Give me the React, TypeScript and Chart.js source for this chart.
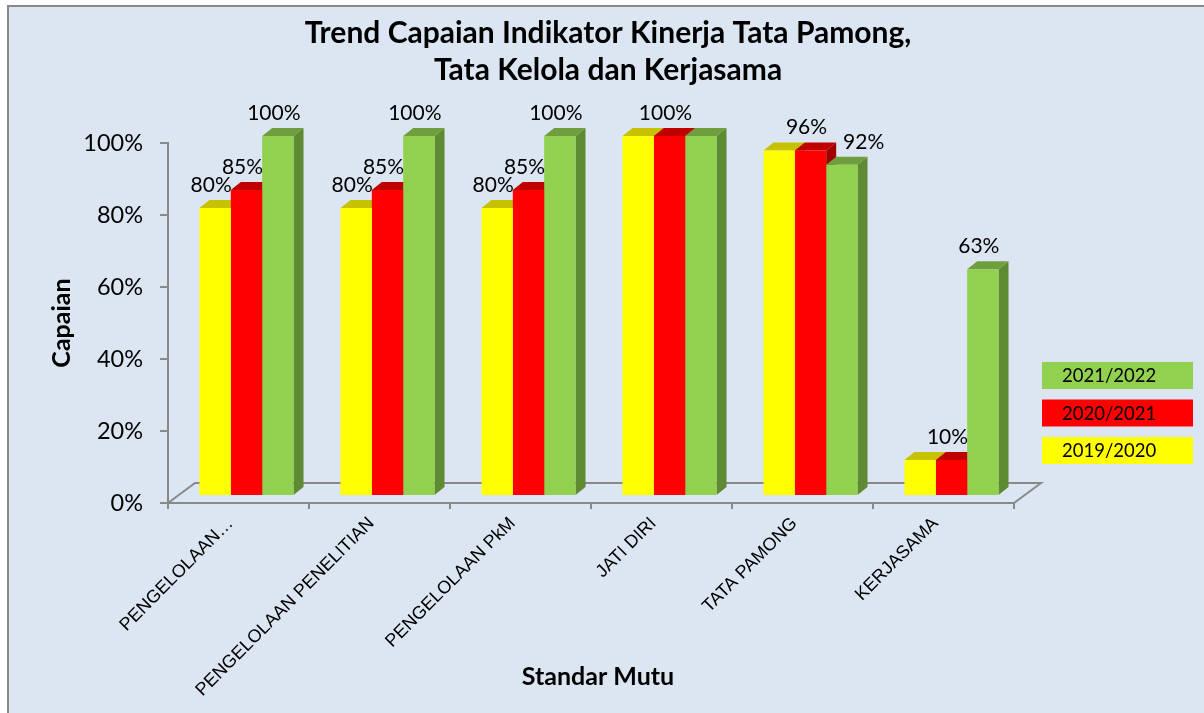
import React, { useEffect, useRef } from 'react';
import { Chart, registerables } from 'chart.js';

Chart.register(...registerables);

// ---------- data ----------
const categories = ['PENGELOLAAN…', 'PENGELOLAAN PENELITIAN', 'PENGELOLAAN PkM', 'JATI DIRI', 'TATA PAMONG', 'KERJASAMA'];
const seriesNames = ['2019/2020', '2020/2021', '2021/2022'];
const values2019 = [0.80, 0.80, 0.80, 1.00, 0.96, 0.10];
const values2020 = [0.85, 0.85, 0.85, 1.00, 0.96, 0.10];
const values2021 = [1.00, 1.00, 1.00, 1.00, 0.92, 0.63];
const showLabel2019 = [true, true, true, false, false, false];
const showLabel2020 = [true, true, true, true, true, true];
const showLabel2021 = [true, true, true, false, true, true];
const yTicks = [0, 0.2, 0.4, 0.6, 0.8, 1.0];
const titleLines = ['Trend Capaian Indikator Kinerja Tata Pamong,', 'Tata Kelola dan Kerjasama'];
const yTitle = 'Capaian';
const xTitle = 'Standar Mutu';

// ---------- styles ----------
const FRONT = ['#FFFF00', '#FF0000', '#92D050'];
const TOP = ['#C6C200', '#C00000', '#6F9E3E'];
const SIDE = ['#B8B400', '#A00000', '#5E8A32'];
const SHOW = [showLabel2019, showLabel2020, showLabel2021];
const AXIS = '#898989';
const BG = '#DCE6F2';
const CAL = 'Lato, "Open Sans", sans-serif';
const ARIAL = '"Liberation Sans", Arial, sans-serif';

const DEPTH_X = 10;
const DEPTH_Y = 8;
const SHIFT_X = 8;
const SHIFT_Y = -7;
const FLOOR_X = 27;
const FLOOR_Y = 20;

const pct = (v: number) => Math.round(v * 100) + '%';

const bar3d = {
  id: 'bar3d',
  beforeDraw(chart: any) {
    const { ctx, width, height } = chart;
    ctx.save();
    ctx.fillStyle = '#FFFFFF';
    ctx.fillRect(0, 0, width, height);
    ctx.fillStyle = BG;
    ctx.fillRect(7, 5, width - 7, height - 5);
    ctx.strokeStyle = AXIS;
    ctx.lineWidth = 2;
    ctx.beginPath();
    ctx.moveTo(8, height);
    ctx.lineTo(8, 6);
    ctx.lineTo(width, 6);
    ctx.stroke();
    ctx.restore();
  },
  beforeDatasetsDraw(chart: any) {
    const { ctx, chartArea } = chart;
    const L = chartArea.left;
    const R = chartArea.right;
    const B = chartArea.bottom;
    ctx.save();
    // floor
    ctx.strokeStyle = AXIS;
    ctx.lineWidth = 2;
    ctx.beginPath();
    ctx.moveTo(L, B);
    ctx.lineTo(L + FLOOR_X, B - FLOOR_Y);
    ctx.lineTo(R + FLOOR_X, B - FLOOR_Y);
    ctx.lineTo(R, B);
    ctx.stroke();
    // 3D top and side faces (fronts are drawn by Chart.js afterwards)
    ctx.translate(SHIFT_X, SHIFT_Y);
    chart.data.datasets.forEach((_ds: any, i: number) => {
      const meta = chart.getDatasetMeta(i);
      meta.data.forEach((el: any) => {
        const { x, y, base, width } = el.getProps(['x', 'y', 'base', 'width'], true);
        const l = x - width / 2;
        const r = x + width / 2;
        ctx.fillStyle = SIDE[i];
        ctx.beginPath();
        ctx.moveTo(r, y);
        ctx.lineTo(r + DEPTH_X, y - DEPTH_Y);
        ctx.lineTo(r + DEPTH_X, base - DEPTH_Y);
        ctx.lineTo(r, base);
        ctx.closePath();
        ctx.fill();
        ctx.fillStyle = TOP[i];
        ctx.beginPath();
        ctx.moveTo(l, y);
        ctx.lineTo(l + DEPTH_X, y - DEPTH_Y);
        ctx.lineTo(r + DEPTH_X, y - DEPTH_Y);
        ctx.lineTo(r, y);
        ctx.closePath();
        ctx.fill();
      });
    });
    ctx.restore();
  },
  beforeDatasetDraw(chart: any) {
    chart.ctx.save();
    chart.ctx.translate(SHIFT_X, SHIFT_Y);
  },
  afterDatasetDraw(chart: any) {
    chart.ctx.restore();
  },
  afterDatasetsDraw(chart: any) {
    const ctx = chart.ctx;
    ctx.save();
    ctx.fillStyle = '#000';
    ctx.textAlign = 'center';
    ctx.textBaseline = 'middle';
    ctx.font = `21px ${CAL}`;
    const placed: { l: number; r: number; t: number; b: number }[] = [];
    const h = 16;
    for (let j = 0; j < chart.data.labels.length; j++) {
      chart.data.datasets.forEach((ds: any, i: number) => {
        if (!SHOW[i][j]) return;
        const el = chart.getDatasetMeta(i).data[j];
        const text = pct(ds.data[j]);
        const w = ctx.measureText(text).width;
        let cx = el.x + SHIFT_X - 4;
        const cy = el.y + SHIFT_Y - 23;
        // simple collision avoidance: push right past an overlapping label
        for (const p of placed) {
          const l = cx - w / 2;
          const r = cx + w / 2;
          if (l < p.r && r > p.l && cy - h / 2 < p.b && cy + h / 2 > p.t) {
            cx = p.r + 16 + w / 2;
          }
        }
        placed.push({ l: cx - w / 2, r: cx + w / 2, t: cy - h / 2, b: cy + h / 2 });
        ctx.fillText(text, cx, cy);
      });
    }
    ctx.restore();
  },
  afterDraw(chart: any) {
    const { ctx, chartArea } = chart;
    ctx.save();
    ctx.fillStyle = '#000';
    ctx.textAlign = 'center';
    ctx.textBaseline = 'middle';
    // title
    ctx.font = `bold 30px ${CAL}`;
    ctx.fillText(titleLines[0], 608, 33);
    ctx.fillText(titleLines[1], 608, 70);
    // axis titles
    ctx.font = `bold 25px ${CAL}`;
    ctx.fillText(xTitle, (chartArea.left + chartArea.right) / 2 + 7, 677);
    ctx.save();
    ctx.translate(62, (chartArea.top + chartArea.bottom) / 2);
    ctx.rotate(-Math.PI / 2);
    ctx.fillText(yTitle, 0, 0);
    ctx.restore();
    // legend (reverse order, as in reference)
    const boxX = 1042;
    const boxW = 151;
    const boxH = 27;
    const startY = 362;
    const gap = 37.5;
    ctx.font = `18.5px ${CAL}`;
    ctx.textAlign = 'left';
    for (let k = 0; k < seriesNames.length; k++) {
      const i = seriesNames.length - 1 - k;
      const y = startY + k * gap;
      ctx.fillStyle = FRONT[i];
      ctx.fillRect(boxX, y, boxW, boxH);
      ctx.fillStyle = '#000';
      ctx.fillText(seriesNames[i], boxX + 20, y + boxH / 2 + 1);
    }
    ctx.restore();
  },
};

export default function App() {
  const ref = useRef<HTMLCanvasElement | null>(null);

  useEffect(() => {
    if (!ref.current) return;
    const values = [values2019, values2020, values2021];
    const chart = new Chart(ref.current, {
      type: 'bar',
      data: {
        labels: categories,
        datasets: seriesNames.map((name, i) => ({
          label: name,
          data: values[i],
          backgroundColor: FRONT[i],
          borderWidth: 0,
          clip: false as any,
          categoryPercentage: 0.667,
          barPercentage: 1.0,
        })),
      },
      options: {
        responsive: false,
        animation: false,
        layout: { padding: { left: 0, top: 143, right: 190, bottom: 0 } },
        plugins: {
          legend: { display: false },
          title: { display: false },
          tooltip: { enabled: false },
        },
        scales: {
          x: {
            offset: true,
            grid: {
              display: true,
              offset: true,
              drawOnChartArea: false,
              drawTicks: true,
              tickLength: 6,
              color: AXIS,
              lineWidth: 2,
            },
            border: { display: true, color: AXIS, width: 2 },
            ticks: {
              autoSkip: false,
              minRotation: 45,
              maxRotation: 45,
              labelOffset: -8,
              padding: 4,
              color: '#000',
              font: { family: ARIAL, size: 18 },
            },
            afterFit: (s: any) => {
              s.height = 210;
            },
          },
          y: {
            min: 0,
            max: 1,
            grid: {
              drawOnChartArea: false,
              drawTicks: true,
              tickLength: 8,
              color: AXIS,
              lineWidth: 2,
            },
            border: { display: true, color: AXIS, width: 2 },
            ticks: {
              padding: 17,
              color: '#000',
              font: { family: CAL, size: 23.5 },
              callback: (v: any) => pct(Number(v)),
            },
            afterBuildTicks: (s: any) => {
              s.ticks = yTicks.map((v) => ({ value: v }));
            },
            afterFit: (s: any) => {
              s.width = 168;
            },
          },
        },
      },
      plugins: [bar3d],
    });
    return () => chart.destroy();
  }, []);

  return (
    <div style={{ position: 'fixed', left: 0, top: 0, width: 1204, height: 713 }}>
      <canvas ref={ref} width={1204} height={713} style={{ display: 'block' }} />
    </div>
  );
}
